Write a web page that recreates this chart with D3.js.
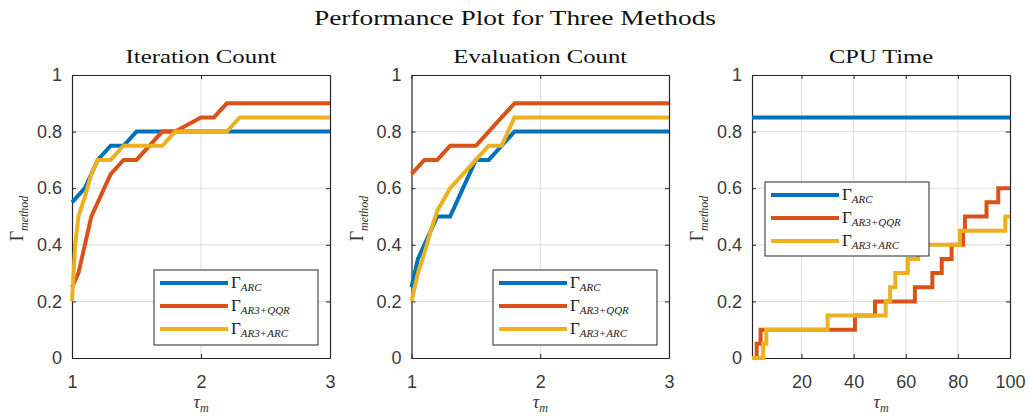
<!DOCTYPE html>
<html><head><meta charset="utf-8">
<script src="https://cdn.jsdelivr.net/npm/d3@7"></script>
<style>body{margin:0;background:#fff} svg{display:block}</style>
</head><body><svg id="c" width="1030" height="420"></svg>
<script>
// ---------- data ----------
const mainTitle = "Performance Plot for Three Methods";
const panelTitles = ["Iteration Count", "Evaluation Count", "CPU Time"];
const seriesLabels = ["ARC", "AR3+QQR", "AR3+ARC"];
const seriesColors = ["#0072BD", "#D95319", "#EDB120"];
const yTicks = [0, 0.2, 0.4, 0.6, 0.8, 1];
const xTicksCount = [1, 2, 3];
const xTicksCpu = [20, 40, 60, 80, 100];

// Iteration count
const iterArcTau = [1, 1.1, 1.2, 1.3, 1.4, 1.5, 3];
const iterArcVal = [0.55, 0.6, 0.7, 0.75, 0.75, 0.8, 0.8];
const iterQqrTau = [1, 1.05, 1.1, 1.15, 1.2, 1.25, 1.3, 1.4, 1.5, 1.7, 1.8, 2.0, 2.1, 2.2, 3];
const iterQqrVal = [0.25, 0.3, 0.4, 0.5, 0.55, 0.6, 0.65, 0.7, 0.7, 0.8, 0.8, 0.85, 0.85, 0.9, 0.9];
const iterAr3ArcTau = [1, 1.025, 1.05, 1.1, 1.15, 1.2, 1.3, 1.4, 1.7, 1.8, 2.2, 2.3, 3];
const iterAr3ArcVal = [0.2, 0.4, 0.5, 0.57, 0.65, 0.7, 0.7, 0.75, 0.75, 0.8, 0.8, 0.85, 0.85];

// Evaluation count
const evalArcTau = [1, 1.05, 1.1, 1.15, 1.2, 1.3, 1.4, 1.5, 1.6, 1.7, 1.8, 3];
const evalArcVal = [0.25, 0.35, 0.4, 0.45, 0.5, 0.5, 0.6, 0.7, 0.7, 0.75, 0.8, 0.8];
const evalQqrTau = [1, 1.1, 1.2, 1.3, 1.5, 1.6, 1.7, 1.8, 3];
const evalQqrVal = [0.65, 0.7, 0.7, 0.75, 0.75, 0.8, 0.85, 0.9, 0.9];
const evalAr3ArcTau = [1, 1.05, 1.1, 1.15, 1.2, 1.3, 1.4, 1.5, 1.6, 1.7, 1.8, 3];
const evalAr3ArcVal = [0.2, 0.3, 0.37, 0.45, 0.52, 0.6, 0.65, 0.7, 0.75, 0.75, 0.85, 0.85];

// CPU time (step profiles)
const cpuArcTau = [1, 100];
const cpuArcVal = [0.85, 0.85];
const cpuQqrTau = [1, 2.8, 4.3, 40.5, 48.2, 63.5, 70.2, 73.8, 77.6, 82, 82.7, 91, 95.5, 100];
const cpuQqrVal = [0, 0.05, 0.1, 0.15, 0.2, 0.25, 0.3, 0.35, 0.4, 0.45, 0.5, 0.55, 0.6, 0.6];
const cpuAr3ArcTau = [1, 5.3, 6.5, 30, 52.3, 54, 56, 60.8, 64.8, 80.8, 98.2, 100];
const cpuAr3ArcVal = [0, 0.05, 0.1, 0.15, 0.2, 0.25, 0.3, 0.35, 0.4, 0.45, 0.5, 0.5];

// ---------- layout ----------
const plotTop = 75, plotBottom = 358;
const panels = [
  {title: panelTitles[0], left: 72, right: 330, xDomain: [1, 3], xTicks: xTicksCount, step: false,
   series: [[iterArcTau, iterArcVal], [iterQqrTau, iterQqrVal], [iterAr3ArcTau, iterAr3ArcVal]],
   legend: {x: 154, y: 270, w: 164, h: 75}},
  {title: panelTitles[1], left: 411.5, right: 669, xDomain: [1, 3], xTicks: xTicksCount, step: false,
   series: [[evalArcTau, evalArcVal], [evalQqrTau, evalQqrVal], [evalAr3ArcTau, evalAr3ArcVal]],
   legend: {x: 493, y: 270, w: 164, h: 75}},
  {title: panelTitles[2], left: 752, right: 1010, xDomain: [1, 100], xTicks: xTicksCpu, step: true,
   series: [[cpuArcTau, cpuArcVal], [cpuQqrTau, cpuQqrVal], [cpuAr3ArcTau, cpuAr3ArcVal]],
   legend: {x: 765, y: 182, w: 164, h: 74}}
];

const svg = d3.select("#c");
const serif = "'Liberation Serif', 'Times New Roman', serif";
const sans = "'Liberation Sans', Arial, Helvetica, sans-serif";
const axisCol = "#262626";

svg.append("text").attr("x", 515).attr("y", 25).attr("text-anchor", "middle")
  .attr("font-family", serif).attr("font-size", 21).attr("fill", "#111")
  .attr("textLength", 402).attr("lengthAdjust", "spacingAndGlyphs").text(mainTitle);

panels.forEach((p, pi) => {
  const x = d3.scaleLinear().domain(p.xDomain).range([p.left, p.right]);
  const y = d3.scaleLinear().domain([0, 1]).range([plotBottom, plotTop]);
  const g = svg.append("g");

  // grid
  g.append("g").selectAll("line").data(p.xTicks.filter(t => t > p.xDomain[0] && t < p.xDomain[1]))
    .join("line").attr("x1", d => x(d)).attr("x2", d => x(d)).attr("y1", plotTop).attr("y2", plotBottom)
    .attr("stroke", "#dcdcdc").attr("stroke-width", 1);
  g.append("g").selectAll("line").data(yTicks.filter(t => t > 0 && t < 1))
    .join("line").attr("y1", d => y(d)).attr("y2", d => y(d)).attr("x1", p.left).attr("x2", p.right)
    .attr("stroke", "#dcdcdc").attr("stroke-width", 1);

  // axes
  const fmtY = d => (d === 0 || d === 1) ? String(d) : d3.format(".1f")(d);
  const ax = [
    g.append("g").attr("transform", `translate(0,${plotBottom})`)
      .call(d3.axisBottom(x).tickValues(p.xTicks).tickFormat(d => String(d)).tickSizeInner(-4).tickSizeOuter(0).tickPadding(17)),
    g.append("g").attr("transform", `translate(${p.left},0)`)
      .call(d3.axisLeft(y).tickValues(yTicks).tickFormat(fmtY).tickSizeInner(-4).tickSizeOuter(0).tickPadding(10)),
    g.append("g").attr("transform", `translate(0,${plotTop})`)
      .call(d3.axisTop(x).tickValues(p.xTicks).tickFormat("").tickSizeInner(-4).tickSizeOuter(0)),
    g.append("g").attr("transform", `translate(${p.right},0)`)
      .call(d3.axisRight(y).tickValues(yTicks).tickFormat("").tickSizeInner(-4).tickSizeOuter(0))
  ];
  ax.forEach(a => {
    a.selectAll("path.domain").attr("stroke", axisCol).attr("stroke-width", 1.2);
    a.selectAll(".tick line").attr("stroke", axisCol);
    a.selectAll("text").attr("font-family", sans).attr("font-size", 18).attr("fill", "#3a3a3a");
  });

  // lines
  const line = d3.line().x(d => x(d[0])).y(d => y(d[1]))
    .curve(p.step ? d3.curveStepAfter : d3.curveLinear);
  p.series.forEach((s, si) => {
    const pts = s[0].map((t, i) => [t, s[1][i]]);
    g.append("path").datum(pts).attr("d", line).attr("fill", "none")
      .attr("stroke", seriesColors[si]).attr("stroke-width", 4)
      .attr("stroke-linejoin", "miter").attr("stroke-linecap", "butt");
  });

  // title
  const tl = [151, 174, 104][pi];
  svg.append("text").attr("x", (p.left + p.right) / 2).attr("y", 63).attr("text-anchor", "middle")
    .attr("font-family", serif).attr("font-size", 19).attr("fill", "#111")
    .attr("textLength", tl).attr("lengthAdjust", "spacingAndGlyphs").text(p.title);

  // x label
  const xl = svg.append("text").attr("x", (p.left + p.right) / 2).attr("y", 408).attr("text-anchor", "middle")
    .attr("font-family", serif).attr("fill", "#333");
  xl.append("tspan").attr("font-size", 18).attr("font-style", "italic").text("τ");
  xl.append("tspan").attr("font-size", 12).attr("font-style", "italic").attr("dy", 4).text("m");

  // y label
  const yl = svg.append("text").attr("transform", `translate(${p.left - 49},${(plotTop + plotBottom) / 2 + 2}) rotate(-90)`)
    .attr("text-anchor", "middle").attr("font-family", serif).attr("fill", "#333");
  yl.append("tspan").attr("font-size", 18).text("Γ");
  yl.append("tspan").attr("font-size", 12).attr("font-style", "italic").attr("dy", 5).text("method");

  // legend
  const L = p.legend;
  const lg = g.append("g");
  lg.append("rect").attr("x", L.x).attr("y", L.y).attr("width", L.w).attr("height", L.h)
    .attr("fill", "#fff").attr("stroke", axisCol).attr("stroke-width", 1);
  seriesLabels.forEach((lab, i) => {
    const yy = L.y + 13 + i * 23;
    lg.append("line").attr("x1", L.x + 6).attr("x2", L.x + 74).attr("y1", yy).attr("y2", yy)
      .attr("stroke", seriesColors[i]).attr("stroke-width", 4);
    const t = lg.append("text").attr("x", L.x + 77).attr("y", yy + 5).attr("font-family", serif).attr("fill", "#222");
    t.append("tspan").attr("font-size", 17).text("Γ");
    t.append("tspan").attr("font-size", 11).attr("font-style", "italic").attr("dy", 3).text(lab);
  });
});
</script></body></html>
